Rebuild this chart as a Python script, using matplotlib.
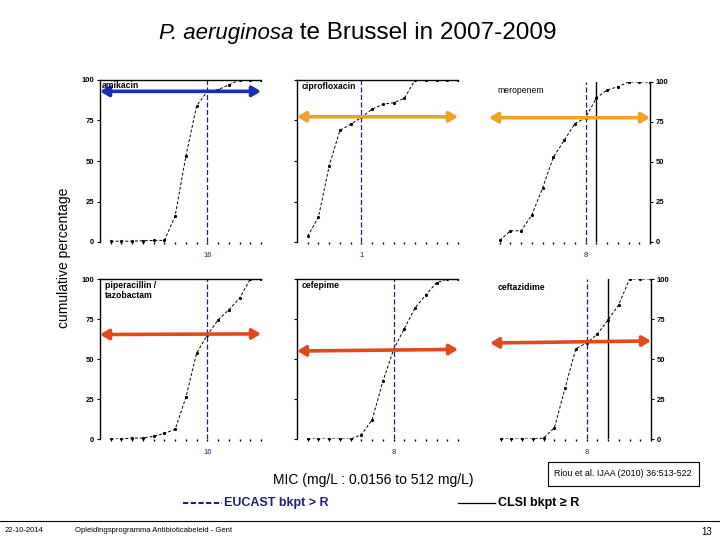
import matplotlib
matplotlib.use("Agg")
import matplotlib.pyplot as plt
from matplotlib.lines import Line2D
from matplotlib.patches import Rectangle
from matplotlib.ticker import NullLocator

plt.rcParams["font.family"] = ["Liberation Sans", "DejaVu Sans"]

W, H = 720, 540

# MIC dilutions 0.0156 .. 512 mg/L (axis range); data starts at 0.03125
dilutions = [0.015625, 0.03125, 0.0625, 0.125, 0.25, 0.5, 1, 2, 4, 8,
             16, 32, 64, 128, 256, 512]
mic_x = dilutions[1:]

# cumulative percentages per antibiotic
amikacin = [0.5, 0.5, 0.5, 0.8, 1, 1, 16, 53, 84, 93, 94, 97, 100, 100, 100]
ciprofloxacin = [3.5, 15.5, 47, 69, 72.6, 77, 82, 85, 86, 88.7, 100, 100, 100, 100, 100]
meropenem = [1, 7, 7, 17, 34, 53, 63.5, 74, 77.7, 90, 95, 97, 100, 100, 100]
pip_tazo = [0, 0, 0.6, 0.6, 1.7, 3.5, 6, 26, 53.6, 65, 74.4, 80.7, 88, 100, 100]
cefepime = [0, 0, 0, 0, 0, 2.7, 12, 36, 56, 69, 82, 90, 97.7, 100, 100]
ceftazidime = [0, 0, 0, 0, 0.6, 7, 32, 56.5, 60, 65.5, 74.4, 84, 100, 100, 100]

# breakpoints (EUCAST R >, CLSI R >=)
eucast = [16, 1, 8, 16, 8, 8]
clsi = [None, None, 16, None, None, 32]

# arrow level (left, right) in %
arrow_levels = [(93, 93), (77.3, 77.3), (77.7, 77.7), (65.3, 65.7), (55, 56), (60, 61.3)]

NAVY = "#1f1f7a"
BLUE = "#1c2fb4"
ORANGE = "#eea22a"
RED = "#e04a1e"


def box(l, r, t, b):
    return [l / W, 1 - b / H, (r - l) / W, (b - t) / H]


def fx(x):
    return x / W


def fy(y):
    return 1 - y / H


fig = plt.figure(figsize=(7.2, 5.4), dpi=100)


def panel(rect, name, values, bp_e, bp_c, arrow, color, side, top_spine,
          label_pos, bold=True):
    ax = fig.add_axes(rect)
    ax.set_xscale("log", base=2)
    ax.set_xlim(dilutions[0], dilutions[-1])
    ax.set_ylim(0, 100)

    ax.plot(mic_x, values, color="black", lw=0.7, ls=(0, (3, 2)),
            marker="o", ms=1.3)

    ax.axvline(bp_e, color=NAVY, lw=0.9, ls=(0, (4, 2)))
    if bp_c is not None:
        ax.axvline(bp_c, color="black", lw=1.0)

    ax.annotate("", xy=(1, arrow[1]), xytext=(0, arrow[0]),
                xycoords=("axes fraction", "data"),
                textcoords=("axes fraction", "data"),
                arrowprops=dict(arrowstyle="<|-|>,head_length=0.5,head_width=0.3",
                                color=color, lw=2.6, shrinkA=0, shrinkB=0))

    ax.set_xticks(mic_x)
    ax.set_xticklabels([f"{bp_e:g}" if m == bp_e else "" for m in mic_x])
    ax.xaxis.set_minor_locator(NullLocator())
    ax.tick_params(axis="x", length=1.5, width=1, labelsize=5.5,
                   labelcolor=NAVY, pad=6)

    ax.set_yticks([0, 25, 50, 75, 100])
    if side == "right":
        ax.yaxis.tick_right()
    ax.tick_params(axis="y", length=2, width=0.8, labelsize=5.5, pad=2)
    if side == "none":
        ax.set_yticklabels([])
    else:
        for t in ax.get_yticklabels():
            t.set_fontweight("bold")

    ax.spines["bottom"].set_visible(False)
    ax.spines["top"].set_visible(top_spine)
    ax.spines["left"].set_visible(side != "right")
    ax.spines["right"].set_visible(side == "right")
    for s in ax.spines.values():
        s.set_linewidth(1.0)

    ax.text(label_pos[0], label_pos[1], name, transform=ax.transAxes,
            fontsize=6.2, fontweight="bold" if bold else "normal",
            va="top", ha="left", linespacing=1.1)
    return ax


panel(box(100, 261, 80, 242), "amikacin", amikacin, eucast[0], clsi[0],
      arrow_levels[0], BLUE, "left", True, (0.01, 0.995))
panel(box(297, 458, 80, 242), "ciprofloxacin", ciprofloxacin, eucast[1], clsi[1],
      arrow_levels[1], ORANGE, "none", True, (0.03, 0.99))
panel(box(489, 650, 82, 242), "meropenem", meropenem, eucast[2], clsi[2],
      arrow_levels[2], ORANGE, "right", False, (0.05, 0.975), bold=False)
panel(box(100, 261, 279, 439), "piperacillin /\ntazobactam", pip_tazo, eucast[3], clsi[3],
      arrow_levels[3], RED, "left", True, (0.03, 0.985))
panel(box(297, 458, 279, 439), "cefepime", cefepime, eucast[4], clsi[4],
      arrow_levels[4], RED, "none", True, (0.03, 0.985))
panel(box(490, 651, 279, 439), "ceftazidime", ceftazidime, eucast[5], clsi[5],
      arrow_levels[5], RED, "right", False, (0.045, 0.975))

# title: italic species name + plain rest
fig.text(fx(293), fy(33), "P. aeruginosa", ha="right", va="center",
         fontsize=16, style="italic")
fig.text(fx(293), fy(33), " te Brussel in 2007-2009", ha="left", va="center",
         fontsize=17.5)
fig.text(fx(64), fy(258), "cumulative percentage", rotation=90,
         ha="center", va="center", fontsize=10)
fig.text(fx(373), fy(480), "MIC (mg/L : 0.0156 to 512 mg/L)",
         ha="center", va="center", fontsize=10)

fig.patches.append(Rectangle((fx(548), fy(486)), fx(699) - fx(548), fy(462) - fy(486),
                             transform=fig.transFigure, fill=False, lw=0.8,
                             edgecolor="black"))
fig.text(fx(623), fy(474), "Riou et al. IJAA (2010) 36:513-522",
         ha="center", va="center", fontsize=6.4)

# legend-like breakpoint keys
fig.lines.append(Line2D([fx(183), fx(222)], [fy(503), fy(503)], transform=fig.transFigure,
                        color=NAVY, lw=1.5, ls=(0, (2.5, 1.2))))
fig.text(fx(224), fy(503), "EUCAST bkpt > R", ha="left", va="center",
         fontsize=9, color=NAVY, fontweight="bold")
fig.lines.append(Line2D([fx(458), fx(495)], [fy(503), fy(503)], transform=fig.transFigure,
                        color="black", lw=0.9))
fig.text(fx(498), fy(503), "CLSI bkpt \u2265 R", ha="left", va="center",
         fontsize=9, fontweight="bold")

# footer
fig.lines.append(Line2D([0, 1], [fy(521), fy(521)], transform=fig.transFigure,
                        color="black", lw=0.8))
fig.text(fx(5), fy(531), "22-10-2014", ha="left", va="center", fontsize=5.5)
fig.text(fx(75), fy(531), "Opleidingsprogramma Antibioticabeleid - Gent",
         ha="left", va="center", fontsize=5.5)
fig.text(fx(712), fy(532), "13", ha="right", va="center", fontsize=7)

fig.savefig("out.png", dpi=100)
